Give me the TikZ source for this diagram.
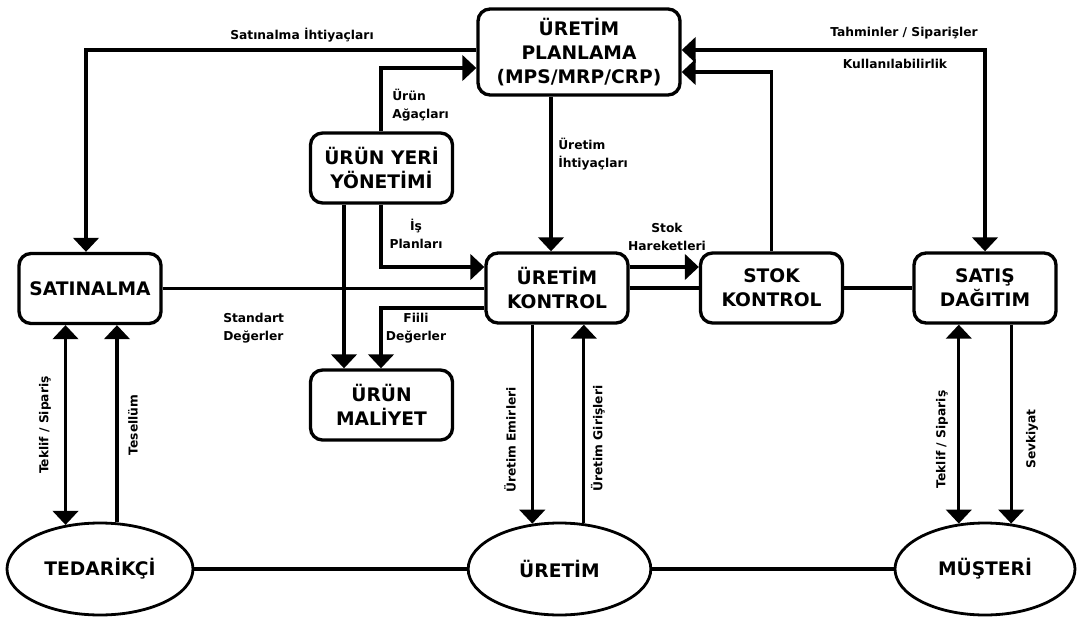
\documentclass[tikz,border=0pt]{standalone}
\usepackage{fontspec}
\setmainfont{DejaVu Sans}
\usetikzlibrary{arrows.meta,shapes.geometric}

\begin{document}
\begin{tikzpicture}[x=0.75pt, y=-0.75pt,
  box/.style={draw, line width=2.5pt, rounded corners=9pt, align=center,
    inner sep=0pt, minimum width=106.5pt, minimum height=52.5pt,
    font=\bfseries\fontsize{14}{18}\selectfont},
  oval/.style={draw, ellipse, line width=2.1pt, inner sep=0pt,
    minimum width=138pt, minimum height=69pt,
    font=\bfseries\fontsize{14}{18}\selectfont},
  conn/.style={line width=2.5pt},
  arr/.style={conn, -{Triangle[width=19pt,length=10.5pt]}},
  arrtwo/.style={conn, {Triangle[width=19pt,length=10.5pt]}-{Triangle[width=19pt,length=10.5pt]}},
  lbl/.style={inner sep=0pt, font=\bfseries\fontsize{9.2}{13.5}\selectfont},
  vlbl/.style={lbl, rotate=90}
]
\useasboundingbox (0,0) rectangle (1078,617);

% boxes
\node[box, minimum width=151.5pt, minimum height=64.5pt] (plan) at (579,52)
  {ÜRETİM\\PLANLAMA\\(MPS/MRP/CRP)};
\node[box] (satin) at (90,288.5) {SATINALMA};
\node[box] (yon) at (381.5,168) {ÜRÜN YERİ\\YÖNETİMİ};
\node[box] (kont) at (557,288) {ÜRETİM\\KONTROL};
\node[box] (stok) at (771.5,288) {STOK\\KONTROL};
\node[box] (satis) at (985,288) {SATIŞ\\DAĞITIM};
\node[box] (mal) at (381.5,405) {ÜRÜN\\MALİYET};

% ellipses
\node[oval, minimum width=139.5pt] (ted) at (100,569) {TEDARİKÇİ};
\node[oval, minimum width=137pt] (urt) at (559.5,569) {ÜRETİM};
\node[oval, minimum width=135pt] (mus) at (985,569) {MÜŞTERİ};

% bend points
\coordinate (p1) at (86,50);
\coordinate (p2) at (381,68);
\coordinate (p3) at (381,267);
\coordinate (p4) at (344,0);
\coordinate (p6) at (381,308);
\coordinate (p7) at (551,0);
\coordinate (p8) at (0,267);
\coordinate (p10) at (771,72);
\coordinate (p11) at (985,50);

% connectors
\draw[arr] (plan.west |- p1) -| (satin.north -| p1);
\draw[arr] (yon.north -| p2) |- (plan.west |- p2);
\draw[arr] (yon.south -| p3) |- (kont.west |- p3);
\draw[arr] (yon.south -| p4) -- (mal.north -| p4);
\draw[conn] (satin.east) -- (kont.west |- satin.east);
\draw[arr] (kont.west |- p6) -| (mal.north -| p6);
\draw[arr] (plan.south -| p7) -- (kont.north -| p7);
\draw[arr] (kont.east |- p8) -- (stok.west |- p8);
\draw[conn] (kont.east) -- (stok.west);
\draw[arr] (stok.north) |- (plan.east |- p10);
\draw[arrtwo] (plan.east |- p11) -| (satis.north);
\draw[conn] (stok.east) -- (satis.west);

\draw[arrtwo] (satin.south -| ted.128.5) -- (ted.128.5);
\draw[arr] (ted.70.5) -- (satin.south -| ted.70.5);
\draw[arr] (kont.south -| urt.121.1) -- (urt.121.1);
\draw[arr] (urt.62.1) -- (kont.south -| urt.62.1);
\draw[arrtwo] (satis.south -| mus.120.6) -- (mus.120.6);
\draw[arr] (satis.south -| mus.60.5) -- (mus.60.5);

\draw[conn] (ted.east) -- (urt.west);
\draw[conn] (urt.east) -- (mus.west);

% labels
\node[lbl] (l1) at (302,35) {Satınalma İhtiyaçları};
\node[lbl, align=left, anchor=west] (l2) at (392,105) {Ürün\\Ağaçları};
\node[lbl, align=center] (l3) at (416,233.5) {İş\\Planları};
\node[lbl, align=left, anchor=west] (l4) at (223,328) {Standart\\Değerler};
\node[lbl, align=center] (l5) at (416,328) {Fiili\\Değerler};
\node[lbl, align=left, anchor=west] (l6) at (558,154) {Üretim\\İhtiyaçları};
\node[lbl, align=center] (l7) at (667,236.5) {Stok\\Hareketleri};
\node[lbl] (l8) at (904,33) {Tahminler / Siparişler};
\node[lbl] (l9) at (895,64) {Kullanılabilirlik};

\node[vlbl] (v1) at (45,425) {Teklif / Sipariş};
\node[vlbl] (v2) at (133,425) {Tesellüm};
\node[vlbl] (v3) at (510,440) {Üretim Emirleri};
\node[vlbl] (v4) at (598,438.5) {Üretim Girişleri};
\node[vlbl] (v5) at (942,439.5) {Teklif / Sipariş};
\node[vlbl] (v6) at (1032,439) {Sevkiyat};
\end{tikzpicture}
\end{document}
